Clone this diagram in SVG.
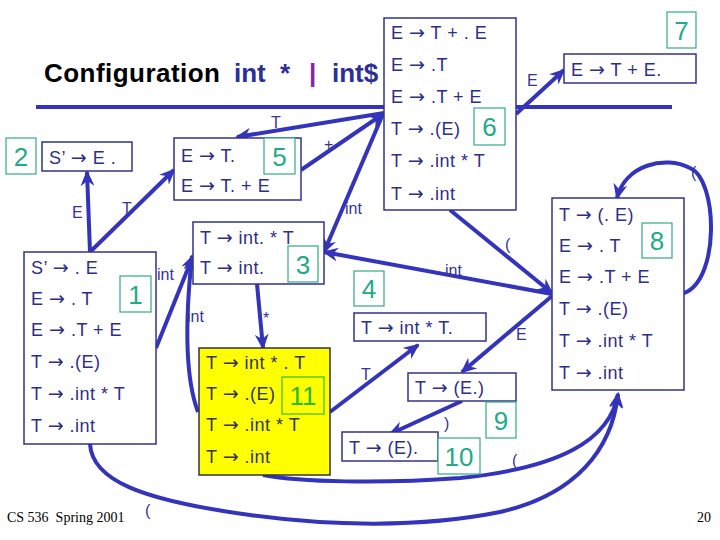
<svg xmlns="http://www.w3.org/2000/svg" width="720" height="540" viewBox="0 0 720 540">
<defs>
<marker id="ah" markerWidth="16" markerHeight="14" refX="14" refY="7" orient="auto" markerUnits="userSpaceOnUse">
<path d="M0,0 L16,7 L0,14 L5,7 Z" fill="#3333bb"/>
</marker>
<style>
.box{fill:#fff;stroke:#333388;stroke-width:1.5}
.ybox{fill:#ffff00;stroke:#333333;stroke-width:1.5}
.t{font-family:"Liberation Sans",Arial,sans-serif;font-size:18px;letter-spacing:0.5px;fill:#2e2e88}
.yt{font-family:"Liberation Sans",Arial,sans-serif;font-size:18px;letter-spacing:0.5px;fill:#333355}
.a{font-family:"DejaVu Sans",sans-serif;font-size:19px}
.num{fill:#fff;stroke:#33aa88;stroke-width:1.2}
.nt{font-family:"Liberation Sans",Arial,sans-serif;font-size:26px;fill:#22aa88;text-anchor:middle}
.c{fill:none;stroke:#3333bb;stroke-width:4;marker-end:url(#ah)}
.lbl{font-family:"Liberation Sans",Arial,sans-serif;font-size:16px;fill:#333399}
.rule{stroke:#3333bb;stroke-width:4}
.ti{font-family:"Liberation Sans",Arial,sans-serif;font-weight:bold;font-size:26px}
</style>
</defs>
<rect width="720" height="540" fill="#fff"/>
<g id="title">
<text class="ti" x="44" y="82" fill="#000" textLength="176">Configuration</text>
<text class="ti" x="234" y="82" fill="#2e2e99">int</text>
<text class="ti" x="280" y="82" fill="#2e2e99">*</text>
<text class="ti" x="309" y="82" fill="#8822aa">|</text>
<text class="ti" x="332" y="82" fill="#2e2e99">int$</text>
</g>
<line class="rule" x1="36" y1="107" x2="384" y2="107"/>
<line class="rule" x1="516" y1="107" x2="672" y2="107"/>
<g id="connectors">
<path class="c" d="M384,113 L237,137"/>
<path class="c" d="M301,170 L383,114"/>
<path class="c" d="M383,114 L324,252"/>
<path class="c" d="M516,114 L564,70"/>
<path class="c" d="M90,252 L87,172"/>
<path class="c" d="M90,252 L174,170"/>
<path class="c" d="M156,348 L193,256"/>
<path class="c" d="M198,412 C186,380 184,330 192,256"/>
<path class="c" d="M257,284 L263,348"/>
<path class="c" d="M552,294 L324,252"/>
<path class="c" d="M450,210 L552,293"/>
<path class="c" d="M552,296 L462,372"/>
<path class="c" d="M462,401 L390,434"/>
<path class="c" d="M330,412 L418,345"/>
<path class="c" d="M684,293 C720,280 718,180 690,168 C665,155 625,165 617,198"/>
<path class="c" d="M263,475 C300,482 380,484 460,478 C560,468 610,440 618,394"/>
<path class="c" d="M90,444 C92,480 140,500 250,515 C330,526 420,528 500,512 C575,495 612,450 618,394"/>
<text class="lbl" x="271" y="128">T</text>
<text class="lbl" x="324" y="150">+</text>
<text class="lbl" x="345" y="214">int</text>
<text class="lbl" x="527" y="86">E</text>
<text class="lbl" x="72" y="218">E</text>
<text class="lbl" x="122" y="214">T</text>
<text class="lbl" x="157" y="280">int</text>
<text class="lbl" x="187" y="322">int</text>
<text class="lbl" x="263" y="324">*</text>
<text class="lbl" x="445" y="276">int</text>
<text class="lbl" x="505" y="250">(</text>
<text class="lbl" x="516" y="340">E</text>
<text class="lbl" x="444" y="429">)</text>
<text class="lbl" x="361" y="380">T</text>
<text class="lbl" x="691" y="178">(</text>
<text class="lbl" x="512" y="466">(</text>
<text class="lbl" x="145" y="516">(</text>
</g>
<g id="state6">
<rect class="box" x="384" y="18" width="132" height="192"/>
<text class="t" x="391" y="39">E <tspan class="a">→</tspan> T + . E</text>
<text class="t" x="391" y="71">E <tspan class="a">→</tspan> .T</text>
<text class="t" x="391" y="103">E <tspan class="a">→</tspan> .T + E</text>
<text class="t" x="391" y="135">T <tspan class="a">→</tspan> .(E)</text>
<text class="t" x="391" y="167">T <tspan class="a">→</tspan> .int * T</text>
<text class="t" x="391" y="200">T <tspan class="a">→</tspan> .int</text>
<rect class="num" x="474" y="108" width="31" height="37"/>
<text class="nt" x="489.5" y="136">6</text>
</g>
<g id="state7">
<rect class="num" x="667" y="12" width="29" height="36"/>
<text class="nt" x="681.5" y="40">7</text>
<rect class="box" x="564" y="54" width="132" height="29"/>
<text class="t" x="571" y="76">E <tspan class="a">→</tspan> T + E.</text>
</g>
<g id="state5">
<rect class="box" x="174" y="138" width="127" height="62"/>
<text class="t" x="181" y="162">E <tspan class="a">→</tspan> T.</text>
<text class="t" x="181" y="192">E <tspan class="a">→</tspan> T. + E</text>
<rect class="num" x="264" y="138" width="31" height="36"/>
<text class="nt" x="279.5" y="166">5</text>
</g>
<g id="state2">
<rect class="num" x="6" y="138" width="30" height="36"/>
<text class="nt" x="21" y="166">2</text>
<rect class="box" x="42" y="142" width="90" height="29"/>
<text class="t" x="49" y="164">S’ <tspan class="a">→</tspan> E .</text>
</g>
<g id="state1">
<rect class="box" x="24" y="252" width="132" height="192"/>
<text class="t" x="31" y="274">S’ <tspan class="a">→</tspan> . E</text>
<text class="t" x="31" y="305">E <tspan class="a">→</tspan> . T</text>
<text class="t" x="31" y="336">E <tspan class="a">→</tspan> .T + E</text>
<text class="t" x="31" y="368">T <tspan class="a">→</tspan> .(E)</text>
<text class="t" x="31" y="400">T <tspan class="a">→</tspan> .int * T</text>
<text class="t" x="31" y="432">T <tspan class="a">→</tspan> .int</text>
<rect class="num" x="120" y="276" width="31" height="36"/>
<text class="nt" x="135.5" y="304">1</text>
</g>
<g id="state3">
<rect class="box" x="193" y="222" width="131" height="62"/>
<text class="t" x="200" y="244">T <tspan class="a">→</tspan> int. * T</text>
<text class="t" x="200" y="274">T <tspan class="a">→</tspan> int.</text>
<rect class="num" x="288" y="246" width="30" height="36"/>
<text class="nt" x="303" y="274">3</text>
</g>
<g id="state11">
<rect class="ybox" x="199" y="348" width="131" height="127"/>
<text class="yt" x="206" y="369">T <tspan class="a">→</tspan> int * . T</text>
<text class="yt" x="206" y="400">T <tspan class="a">→</tspan> .(E)</text>
<text class="yt" x="206" y="431">T <tspan class="a">→</tspan> .int * T</text>
<text class="yt" x="206" y="463">T <tspan class="a">→</tspan> .int</text>
<rect x="282" y="377" width="42" height="37" fill="#ffff00" stroke="#33bb33" stroke-width="1.2"/>
<text class="nt" x="303" y="405" style="fill:#22bb22">11</text>
</g>
<g id="state4">
<rect class="num" x="354" y="271" width="30" height="35"/>
<text class="nt" x="369" y="298">4</text>
<rect class="box" x="354" y="313" width="132" height="28"/>
<text class="t" x="361" y="334">T <tspan class="a">→</tspan> int * T.</text>
</g>
<g id="state8">
<rect class="box" x="552" y="198" width="132" height="192"/>
<text class="t" x="559" y="221">T <tspan class="a">→</tspan> (. E)</text>
<text class="t" x="559" y="252">E <tspan class="a">→</tspan> . T</text>
<text class="t" x="559" y="283">E <tspan class="a">→</tspan> .T + E</text>
<text class="t" x="559" y="315">T <tspan class="a">→</tspan> .(E)</text>
<text class="t" x="559" y="347">T <tspan class="a">→</tspan> .int * T</text>
<text class="t" x="559" y="379">T <tspan class="a">→</tspan> .int</text>
<rect class="num" x="642" y="223" width="30" height="35"/>
<text class="nt" x="657" y="250">8</text>
</g>
<g id="state9">
<rect class="box" x="408" y="373" width="108" height="28"/>
<text class="t" x="415" y="394">T <tspan class="a">→</tspan> (E.)</text>
<rect class="num" x="486" y="402" width="30" height="36"/>
<text class="nt" x="501" y="430">9</text>
</g>
<g id="state10">
<rect class="box" x="342" y="432" width="96" height="29"/>
<text class="t" x="349" y="454">T <tspan class="a">→</tspan> (E).</text>
<rect class="num" x="438" y="438" width="42" height="36"/>
<text class="nt" x="459" y="466">10</text>
</g>
<g id="footer">
<text x="7" y="522" font-family="'Liberation Serif','Times New Roman',serif" font-size="14" fill="#000" xml:space="preserve">CS 536  Spring 2001</text>
<text x="697" y="522" font-family="'Liberation Serif','Times New Roman',serif" font-size="14" fill="#000">20</text>
</g>
</svg>
